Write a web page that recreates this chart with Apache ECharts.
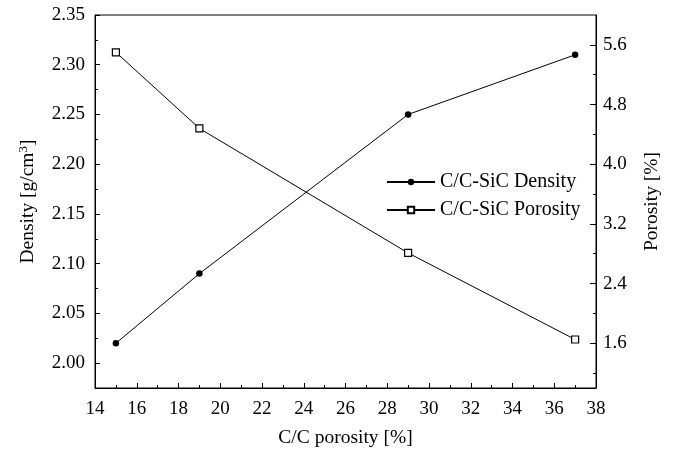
<!DOCTYPE html>
<html>
<head>
<meta charset="utf-8">
<script src="https://cdn.jsdelivr.net/npm/echarts@6/dist/echarts.min.js"></script>
<style>html,body{margin:0;padding:0;background:#fff}#c{width:673px;height:450px}</style>
</head>
<body>
<div id="c"></div>
<script>
const xValues = [15, 19, 29, 37];
const densityValues = [2.02, 2.09, 2.25, 2.31];
const porosityValues = [5.5, 4.48, 2.81, 1.65];
const leftTicks = [2.00, 2.05, 2.10, 2.15, 2.20, 2.25, 2.30, 2.35];
const leftMinorTicks = [1.975, 2.025, 2.075, 2.125, 2.175, 2.225, 2.275, 2.325];
const rightTicks = [1.6, 2.4, 3.2, 4.0, 4.8, 5.6];
const rightMinorTicks = [1.2, 2.0, 2.8, 3.6, 4.4, 5.2];
const seriesNames = ['C/C-SiC Density', 'C/C-SiC Porosity'];

const FONT = '"Liberation Serif", "Times New Roman", serif';
const chart = echarts.init(document.getElementById('c'), null, {renderer: 'canvas'});
const lbl = {color: '#000', fontFamily: FONT, fontSize: 19};
const line = {show: true, lineStyle: {color: '#000', width: 1}};

chart.setOption({
  animation: false,
  backgroundColor: '#fff',
  grid: {left: 95, right: 77, top: 15, bottom: 62, outerBoundsMode: 'none', containLabel: false, show: true, borderColor: '#000', borderWidth: 1, backgroundColor: 'transparent'},
  legend: {
    left: 381, top: 167, orient: 'vertical', itemGap: 8, itemWidth: 48, itemHeight: 8,
    textStyle: {color: '#000', fontFamily: FONT, fontSize: 20},
    data: seriesNames
  },
  xAxis: {
    type: 'value', min: 14, max: 38, interval: 2,
    axisLine: line,
    axisTick: {inside: true, length: 5, lineStyle: {color: '#000'}},
    minorTick: {show: true, splitNumber: 2, length: 3, lineStyle: {color: '#000'}},
    splitLine: {show: false},
    axisLabel: Object.assign({margin: 12}, lbl),
    name: 'C/C porosity [%]', nameLocation: 'middle', nameGap: 40,
    nameTextStyle: {color: '#000', fontFamily: FONT, fontSize: 19.5}
  },
  yAxis: [
    {
      type: 'value', position: 'left', min: 1.975, max: 2.35,
      axisLine: line,
      axisTick: {inside: true, length: 5, lineStyle: {color: '#000'}, customValues: leftTicks},
      splitLine: {show: false},
      axisLabel: Object.assign({margin: 10, customValues: leftTicks, formatter: v => v.toFixed(2)}, lbl),
      name: '{n|Density [g/cm}{s|3}{n|]}', nameLocation: 'middle', nameGap: 57, nameRotate: 90,
      nameTextStyle: {rich: {n: {color: '#000', fontFamily: FONT, fontSize: 19.5}, s: {color: '#000', fontFamily: FONT, fontSize: 13, verticalAlign: 'top', padding: [0, 0, 8, 0]}}}
    },
    {
      type: 'value', position: 'right', min: 1.0, max: 6.0,
      axisLine: line,
      axisTick: {inside: true, length: 6, lineStyle: {color: '#000'}, customValues: rightTicks},
      splitLine: {show: false},
      axisLabel: Object.assign({margin: 7, customValues: rightTicks, formatter: v => v.toFixed(1)}, lbl),
      name: 'Porosity [%]', nameLocation: 'middle', nameGap: 46, nameRotate: 90,
      nameTextStyle: {color: '#000', fontFamily: FONT, fontSize: 19.5}
    },
    {
      type: 'value', position: 'left', min: 1.975, max: 2.35,
      axisLine: {show: false},
      axisTick: {inside: true, length: 3, lineStyle: {color: '#000'}, customValues: leftMinorTicks},
      splitLine: {show: false},
      axisLabel: {show: false}
    },
    {
      type: 'value', position: 'right', min: 1.0, max: 6.0,
      axisLine: {show: false},
      axisTick: {inside: true, length: 3, lineStyle: {color: '#000'}, customValues: rightMinorTicks},
      splitLine: {show: false},
      axisLabel: {show: false}
    }
  ],
  series: [
    {
      name: seriesNames[0], type: 'line', yAxisIndex: 0,
      data: xValues.map((x, i) => [x, densityValues[i]]),
      symbol: 'circle', symbolSize: 6.5,
      itemStyle: {color: '#000'}, lineStyle: {color: '#000', width: 1}
    },
    {
      name: seriesNames[1], type: 'line', yAxisIndex: 1,
      data: xValues.map((x, i) => [x, porosityValues[i]]),
      symbol: 'rect', symbolSize: 7,
      itemStyle: {color: '#fff', borderColor: '#000', borderWidth: 1.2}, lineStyle: {color: '#000', width: 1}
    }
  ]
});
</script>
</body>
</html>
